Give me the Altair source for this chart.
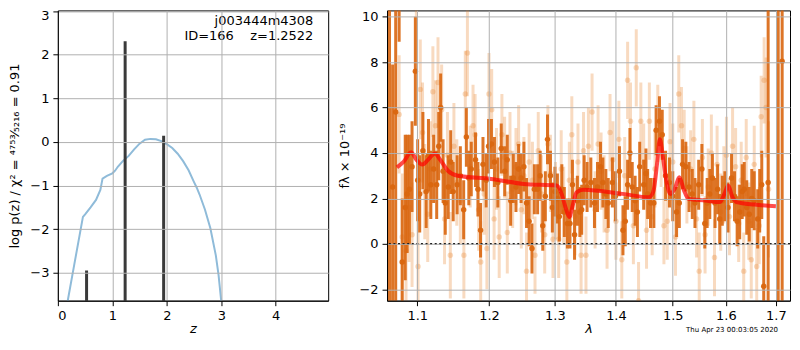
import altair as alt
import pandas as pd

# ---------------- left panel: log p(z) ----------------
pz_z = [0.15, 0.20, 0.30, 0.40, 0.46, 0.50, 0.60, 0.70, 0.78, 0.82,
        0.90, 1.00, 1.05, 1.10, 1.20, 1.30, 1.40, 1.50, 1.60, 1.70,
        1.80, 1.90, 2.00, 2.10, 2.20, 2.30, 2.40, 2.50, 2.55, 2.60,
        2.70, 2.80, 2.90, 2.95, 3.02]
pz_logp = [-3.86, -3.51, -2.82, -2.13, -1.72, -1.66, -1.50, -1.33, -1.10, -0.84,
           -0.78, -0.72, -0.66, -0.57, -0.43, -0.32, -0.17, -0.04, 0.05, 0.07,
           0.06, 0.02, -0.05, -0.14, -0.27, -0.44, -0.65, -0.92, -1.05, -1.20,
           -1.55, -1.98, -2.60, -3.05, -3.90]
spike_z = [0.527, 1.235, 1.942]
spike_top = [-2.95, 2.31, 0.14]

# ---------------- right panel: spectrum ----------------
wave_dark = [1.0635, 1.0675, 1.0715, 1.0760, 1.0800, 1.0840, 1.0865, 1.0895, 1.0930, 1.0974,
             1.1005, 1.1032, 1.1075, 1.1119, 1.1150, 1.1182, 1.1220, 1.1262, 1.1290, 1.1316,
             1.1350, 1.1380, 1.1421, 1.1455, 1.1490, 1.1545, 1.1590, 1.1637, 1.1675, 1.1710,
             1.1745, 1.1806, 1.1840, 1.1878, 1.1913, 1.1960, 1.1994, 1.2036, 1.2080, 1.2130,
             1.2180, 1.2232, 1.2270, 1.2320, 1.2360, 1.2400, 1.2440, 1.2477, 1.2520, 1.2560,
             1.2600, 1.2643, 1.2680, 1.2730, 1.2770, 1.2810, 1.2850, 1.2884, 1.2930, 1.2960,
             1.3000, 1.3040, 1.3070, 1.3110, 1.3150, 1.3199, 1.3240, 1.3280, 1.3314, 1.3360,
             1.3400, 1.3430, 1.3470, 1.3518, 1.3580, 1.3640, 1.3690, 1.3740, 1.3780, 1.3830,
             1.3870, 1.3940, 1.3990, 1.4060, 1.4120, 1.4160, 1.4200, 1.4240, 1.4280, 1.4330,
             1.4370, 1.4410, 1.4480, 1.4520, 1.4550, 1.4600, 1.4660, 1.4700, 1.4760, 1.4810,
             1.4870, 1.4940, 1.5000, 1.5070, 1.5120, 1.5180, 1.5240, 1.5300, 1.5360, 1.5410,
             1.5480, 1.5540, 1.5595, 1.5640, 1.5690, 1.5740, 1.5790, 1.5840, 1.5880, 1.5930,
             1.5980, 1.6040, 1.6110, 1.6168, 1.6220, 1.6270, 1.6320, 1.6360, 1.6410, 1.6460,
             1.6510, 1.6560, 1.6630, 1.6670, 1.6712, 1.6752, 1.6842, 1.7049, 1.7131]
flux_dark = [10.45, 2.5, 5.8, 11.5, -0.8, 1.6, 2.2, 2.4, 3.4, 7.6,
             2.8, 2.2, 4.1, 2.3, 3.9, 2.6, 3.3, 2.6, 4.3, 6.0,
             3.2, 1.8, 2.5, 3.6, 2.3, 2.6, 3.0, 1.5, 4.7, 2.9,
             3.3, 3.7, 2.4, 0.6, 3.5, 2.8, 4.3, 4.4, 3.6, 2.7,
             4.2, 3.2, 3.7, 1.9, 2.9, 2.5, 3.3, 2.9, 3.4, 1.8,
             1.0, -0.2, 2.4, 2.4, 3.0, 0.8, 2.1, 4.6, 3.0, 1.6,
             2.3, 2.0, 1.2, 2.4, 1.4, 0.9, 0.9, 2.6, 0.4, 1.9,
             1.4, 1.5, 2.8, 2.5, 2.7, 1.8, 2.5, 3.4, 2.7, 2.2,
             1.8, 2.7, 2.1, 3.2, 0.6, 1.0, 2.6, 4.0, 2.5, 1.9,
             1.4, 3.4, 2.6, 3.1, 2.2, 1.8, 1.8, 5.0, 5.4, 4.8,
             3.0, 2.7, 2.1, 1.4, 1.8, 3.5, 3.4, 2.5, 2.2, 1.8,
             2.6, 3.3, 0.9, 1.8, 2.2, 2.9, 1.8, 2.4, 1.1, 1.9,
             2.1, 1.6, 2.9, 2.1, 1.0, 1.4, 2.3, 2.4, 1.6, 1.3,
             2.0, 1.9, 1.1, 1.9, 2.6, -1.86, 2.7, -2.6, 8.04]
err_dark = [14.0, 5.4, 9.0, 2.6, 2.8, 3.2, 2.6, 2.4, 2.0, 2.4,
            1.8, 1.7, 1.7, 1.6, 1.6, 1.5, 1.5, 1.5, 1.5, 1.5,
            1.4, 1.4, 1.4, 1.4, 1.3, 1.3, 1.3, 1.3, 1.3, 1.2,
            1.2, 1.2, 1.2, 1.2, 1.2, 1.2, 1.2, 1.1, 1.1, 1.1,
            1.1, 1.1, 1.1, 1.1, 1.1, 1.1, 1.1, 1.1, 1.1, 1.1,
            1.1, 1.1, 1.1, 1.1, 1.1, 1.1, 1.1, 1.1, 1.1, 1.1,
            1.1, 1.1, 1.1, 1.1, 1.1, 1.1, 1.1, 1.1, 1.1, 1.1,
            1.1, 1.1, 1.1, 1.1, 1.1, 1.1, 1.1, 1.1, 1.1, 1.1,
            1.1, 1.1, 1.1, 1.1, 1.1, 1.1, 1.1, 1.1, 1.1, 1.1,
            1.1, 1.1, 1.1, 1.1, 1.1, 1.1, 1.1, 1.1, 1.1, 1.1,
            1.1, 1.1, 1.1, 1.1, 1.1, 1.1, 1.1, 1.1, 1.1, 1.1,
            1.1, 1.1, 1.1, 1.1, 1.1, 1.1, 1.1, 1.1, 1.1, 1.1,
            1.1, 1.1, 1.1, 1.1, 1.1, 1.2, 1.2, 1.2, 1.2, 1.2,
            1.3, 1.3, 1.3, 1.4, 1.5, 2.2, 12.0, 13.0, 14.0]

wave_light = [1.0760, 1.0800, 1.0850, 1.0890, 1.0930, 1.0987, 1.1010, 1.1040, 1.1070, 1.1100,
              1.1140, 1.1175, 1.1210, 1.1245, 1.1280, 1.1330, 1.1370, 1.1410, 1.1450, 1.1500,
              1.1540, 1.1590, 1.1640, 1.1660, 1.1690, 1.1730, 1.1770, 1.1800, 1.1850, 1.1880,
              1.1930, 1.1970, 1.2000, 1.2040, 1.2075, 1.2110, 1.2150, 1.2190, 1.2230, 1.2270,
              1.2310, 1.2350, 1.2400, 1.2440, 1.2480, 1.2520, 1.2560, 1.2600, 1.2650, 1.2690,
              1.2740, 1.2790, 1.2840, 1.2890, 1.2930, 1.2970, 1.3010, 1.3060, 1.3100, 1.3140,
              1.3190, 1.3230, 1.3270, 1.3320, 1.3370, 1.3420, 1.3460, 1.3500, 1.3540, 1.3600,
              1.3650, 1.3700, 1.3750, 1.3800, 1.3850, 1.3900, 1.3950, 1.4000, 1.4050, 1.4100,
              1.4150, 1.4200, 1.4250, 1.4300, 1.4350, 1.4390, 1.4430, 1.4480, 1.4530, 1.4580,
              1.4630, 1.4680, 1.4730, 1.4790, 1.4840, 1.4900, 1.4950, 1.5000, 1.5050, 1.5110,
              1.5160, 1.5210, 1.5260, 1.5330, 1.5390, 1.5440, 1.5490, 1.5550, 1.5600, 1.5660,
              1.5720, 1.5780, 1.5830, 1.5900, 1.5960, 1.6010, 1.6070, 1.6130, 1.6190, 1.6250,
              1.6300, 1.6350, 1.6400, 1.6450, 1.6500, 1.6560, 1.6610, 1.6660, 1.6700, 1.6760,
              1.6800, 1.6850]
flux_light = [5.7, 0.3, -0.3, 1.6, 0.4, 10.4, -1.0, 6.8, 4.9, 2.3,
              1.3, 3.3, 6.7, 5.2, 7.1, 5.9, 1.1, 3.9, -0.5, 4.3,
              2.7, 1.9, -0.5, 6.6, 8.4, 3.4, 5.2, 4.8, 1.5, -0.8,
              2.2, -0.2, 6.6, 5.9, 1.1, 3.3, 0.3, 4.8, 3.8, 0.5,
              4.0, 2.4, 3.4, 4.4, 1.5, 3.0, -1.2, 3.6, 2.8, -0.5,
              4.1, 2.2, 0.4, 4.4, 3.1, 0.2, 1.9, 0.2, 3.3, 1.7,
              -0.8, 2.8, 4.8, 1.2, 3.6, -0.5, 4.1, -0.5, 4.3, 5.8,
              1.5, 4.4, 3.2, 2.2, 0.6, 4.9, 3.7, 1.0, 4.6, -0.7,
              3.0, 7.2, 5.4, 0.8, 7.75, -2.5, 5.4, 3.6, 0.6, 5.4,
              1.2, 3.3, 5.3, 4.2, 0.8, 1.0, 4.5, 3.6, 0.3, 6.6,
              5.2, 4.2, 2.6, 3.3, 4.6, 1.1, -1.2, 3.8, 0.4, 2.5,
              4.0, -0.6, 3.5, 1.4, 2.6, 3.9, 1.2, 4.3, 3.4, 0.9,
              2.8, -1.2, 3.8, 1.0, -0.7, 3.5, -1.0, 0.8, 5.6, 7.2,
              6.0, 2.4]
err_light = [2.6, 2.8, 2.6, 2.4, 2.3, 2.4, 2.2, 2.2, 2.2, 2.1,
             2.1, 2.1, 2.0, 2.0, 2.0, 2.0, 2.0, 1.9, 1.9, 1.9,
             1.9, 1.9, 1.9, 1.9, 1.9, 1.8, 1.8, 1.8, 1.8, 1.8,
             1.8, 1.8, 1.8, 1.8, 1.8, 1.8, 1.8, 1.8, 1.8, 1.8,
             1.8, 1.7, 1.7, 1.7, 1.7, 1.7, 1.7, 1.7, 1.7, 1.7,
             1.7, 1.7, 1.7, 1.7, 1.7, 1.7, 1.7, 1.7, 1.7, 1.7,
             1.7, 1.7, 1.7, 1.7, 1.7, 1.7, 1.7, 1.7, 1.7, 1.7,
             1.7, 1.7, 1.7, 1.7, 1.7, 1.7, 1.7, 1.7, 1.7, 1.7,
             1.7, 1.7, 1.7, 1.7, 1.7, 1.7, 1.7, 1.7, 1.7, 1.7,
             1.7, 1.7, 1.7, 1.7, 1.7, 1.7, 1.7, 1.7, 1.7, 1.7,
             1.7, 1.7, 1.7, 1.7, 1.7, 1.7, 1.7, 1.7, 1.7, 1.7,
             1.7, 1.7, 1.7, 1.7, 1.7, 1.7, 1.7, 1.7, 1.7, 1.7,
             1.7, 1.7, 1.7, 1.7, 1.7, 1.7, 1.7, 1.7, 1.8, 1.9,
             2.2, 3.0]

model_wave = [1.0731, 1.0820, 1.0917, 1.0990, 1.1066, 1.1150, 1.1236, 1.1300, 1.1417, 1.1555,
              1.2028, 1.2518, 1.3029, 1.3107, 1.3170, 1.3229, 1.3290, 1.3346, 1.3454, 1.4115,
              1.4574, 1.4650, 1.4720, 1.4767, 1.4822, 1.4890, 1.4957, 1.5040, 1.5119, 1.5200,
              1.5290, 1.5600, 1.5884, 1.5970, 1.6045, 1.6120, 1.6206, 1.6570, 1.7001]
model_flux = [3.37, 3.62, 4.03, 3.70, 3.49, 3.72, 3.98, 3.75, 3.22, 3.00,
              2.86, 2.64, 2.57, 2.20, 1.60, 1.18, 1.75, 2.27, 2.38, 2.20,
              2.05, 2.30, 3.60, 4.61, 3.81, 2.70, 2.20, 2.45, 2.93, 2.40,
              1.98, 1.91, 1.84, 2.20, 2.57, 2.10, 1.84, 1.73, 1.66]

FONT = "DejaVu Sans"
DARK = "#d9660f"
LIGHT = "#e8832e"

# ---------------- left chart ----------------
df_pz = pd.DataFrame({"z": pz_z, "logp": pz_logp})
df_sp = pd.DataFrame({"z": spike_z, "top": spike_top})

lx_scale = alt.Scale(domain=[0, 4.963], nice=False, zero=False)
ly_scale = alt.Scale(domain=[-3.64, 3.016], nice=False, zero=False)
lx_axis = alt.Axis(values=[0, 1, 2, 3, 4], title="z", titleFontStyle="italic",
                   grid=True, zindex=1, titlePadding=0)
ly_axis = alt.Axis(values=[-3, -2, -1, 0, 1, 2, 3],
                   title="log p(z) / χ² = ⁴⁷⁵³⁄₅₂₁₆ = 0.91",
                   grid=True, zindex=1, titleX=-43, titleBaseline="middle",
                   labelOffset={"condition": {"test": "datum.value == 3", "value": 4}, "value": 0})

pz_line = alt.Chart(df_pz).mark_line(color="#8fbbd9", strokeWidth=2, clip=True).encode(
    x=alt.X("z:Q", scale=lx_scale, axis=lx_axis),
    y=alt.Y("logp:Q", scale=ly_scale, axis=ly_axis),
)
spikes = alt.Chart(df_sp).mark_rule(color="#3a3a3a", strokeWidth=3, clip=True).encode(
    x=alt.X("z:Q", scale=lx_scale, axis=lx_axis),
    y=alt.Y("top:Q", scale=ly_scale, axis=ly_axis),
    y2=alt.datum(-3.72),
)
name_txt = alt.Chart(pd.DataFrame({"t": ["j003444m4308"]})).mark_text(
    align="right", baseline="middle", font=FONT, fontSize=13, color="black"
).encode(text="t:N", x=alt.value(256), y=alt.value(11))
id_txt = alt.Chart(pd.DataFrame({"t": ["ID=166\u00a0\u00a0\u00a0\u00a0z=1.2522"]})).mark_text(
    align="right", baseline="middle", font=FONT, fontSize=13, color="black"
).encode(text="t:N", x=alt.value(256), y=alt.value(26))

left = alt.layer(pz_line, spikes, name_txt, id_txt).properties(width=271, height=291)

# ---------------- right chart ----------------
df_dark = pd.DataFrame({"wave": wave_dark, "flux": flux_dark, "err": err_dark})
df_dark["lo"] = df_dark["flux"] - df_dark["err"]
df_dark["hi"] = df_dark["flux"] + df_dark["err"]
df_light = pd.DataFrame({"wave": wave_light, "flux": flux_light, "err": err_light})
df_light["lo"] = df_light["flux"] - df_light["err"]
df_light["hi"] = df_light["flux"] + df_light["err"]
df_model = pd.DataFrame({"wave": model_wave, "flux": model_flux})

rx_scale = alt.Scale(type="log", domain=[1.0603, 1.7295], nice=False, zero=False)
ry_scale = alt.Scale(domain=[-2.50, 10.276], nice=False, zero=False)
rx_axis = alt.Axis(values=[1.1, 1.2, 1.3, 1.4, 1.5, 1.6, 1.7], format=".1f", title="λ",
                   titleFontStyle="italic", grid=True, zindex=1, titlePadding=0)
ry_axis = alt.Axis(values=[-2, 0, 2, 4, 6, 8, 10], title="fλ × 10⁻¹⁹", grid=True, zindex=1,
                   titleX=-43, titleBaseline="middle")


def xe(f):
    return alt.X(f, type="quantitative", scale=rx_scale, axis=rx_axis)


def ye(f):
    return alt.Y(f, type="quantitative", scale=ry_scale, axis=ry_axis)


light_bars = alt.Chart(df_light).mark_rule(color=LIGHT, opacity=0.3, strokeWidth=3, clip=True).encode(
    x=xe("wave"), y=ye("lo"), y2="hi:Q")
light_pts = alt.Chart(df_light).mark_circle(color=LIGHT, opacity=0.3, size=30, clip=True).encode(
    x=xe("wave"), y=ye("flux"))
dark_bars = alt.Chart(df_dark).mark_rule(color=DARK, opacity=0.9, strokeWidth=3, clip=True).encode(
    x=xe("wave"), y=ye("lo"), y2="hi:Q")
dark_pts = alt.Chart(df_dark).mark_circle(color=DARK, opacity=0.95, size=30, clip=True).encode(
    x=xe("wave"), y=ye("flux"))
model = alt.Chart(df_model).mark_line(color="red", opacity=0.7, strokeWidth=4,
                                      interpolate="monotone", clip=True).encode(
    x=xe("wave"), y=ye("flux"))
zero = alt.Chart(pd.DataFrame({"y": [0.0]})).mark_rule(
    color="black", strokeWidth=2, strokeDash=[2, 2.6]).encode(y=ye("y"))
date_txt = alt.Chart(pd.DataFrame({"t": ["Thu Apr 23 00:03:05 2020"]})).mark_text(
    align="right", baseline="middle", font=FONT, fontSize=7, color="black"
).encode(text="t:N", x=alt.value(392), y=alt.value(320))

right = alt.layer(light_bars, light_pts, dark_bars, dark_pts, model, zero, date_txt).properties(
    width=404, height=291)

chart = alt.hconcat(left, right, spacing=59, bounds="flush").properties(
    padding={"left": 0, "top": 0, "right": 0, "bottom": 0}
).configure_view(stroke="black", strokeWidth=1).configure_axis(
    domainColor="black", tickColor="black", tickSize=5, labelPadding=4,
    labelFont=FONT, titleFont=FONT, labelFontSize=13, titleFontSize=13,
    labelColor="black", titleColor="black", titleFontWeight="normal",
    gridColor="#b0b0b0", gridWidth=1,
)

chart.save("out.html", embed_options={"renderer": "svg", "actions": False})
